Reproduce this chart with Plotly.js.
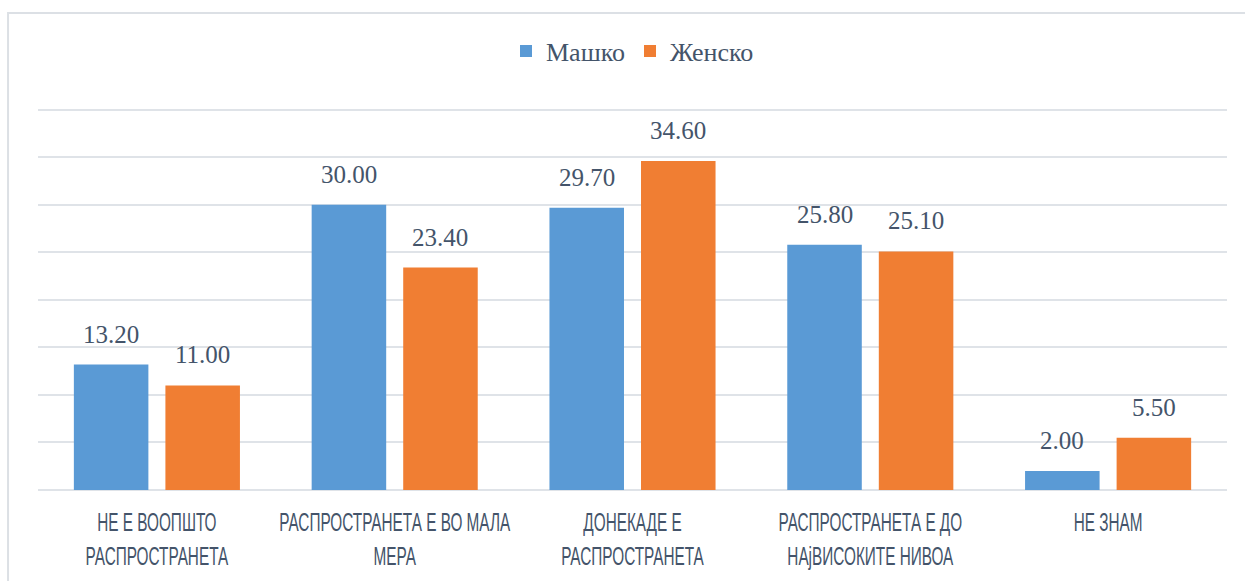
<!DOCTYPE html>
<html>
<head>
<meta charset="utf-8">
<script src="https://cdn.plot.ly/plotly-3.0.1.min.js"></script>
<style>html,body{margin:0;padding:0;background:#fff;}#chart{width:1245px;height:581px;}</style>
</head>
<body>
<div id="chart"></div>
<script>
var categories = [
  "НЕ Е ВООПШТО<br>РАСПРОСТРАНЕТА",
  "РАСПРОСТРАНЕТА Е ВО МАЛА<br>МЕРА",
  "ДОНЕКАДЕ Е<br>РАСПРОСТРАНЕТА",
  "РАСПРОСТРАНЕТА Е ДО<br>НАjВИСОКИТЕ НИВОА",
  "НЕ ЗНАМ"
];
var seriesNames = ["Машко", "Женско"];
var maleValues = [13.20, 30.00, 29.70, 25.80, 2.00];
var femaleValues = [11.00, 23.40, 34.60, 25.10, 5.50];

var textColor = "#44546A";
var serif = "Liberation Serif, DejaVu Serif, serif";

var traces = [
  {type: "bar", name: seriesNames[0], x: categories, y: maleValues,
   marker: {color: "#5A9AD5"}, hoverinfo: "y"},
  {type: "bar", name: seriesNames[1], x: categories, y: femaleValues,
   marker: {color: "#F07E33"}, hoverinfo: "y"}
];

var slotShift = 45.75;
var annotations = [];
[maleValues, femaleValues].forEach(function(vals, si){
  vals.forEach(function(v, i){
    annotations.push({
      x: categories[i], y: v, xref: "x", yref: "y",
      text: v.toFixed(2), showarrow: false,
      xshift: si === 0 ? -slotShift : slotShift,
      yanchor: "bottom", yshift: 15,
      font: {family: serif, size: 25, color: textColor}
    });
  });
});

var layout = {
  width: 1245, height: 581,
  margin: {l: 38, r: 18, t: 105, b: 91},
  paper_bgcolor: "#ffffff", plot_bgcolor: "#ffffff",
  barmode: "group", bargap: 0.23, bargroupgap: 0.186,
  showlegend: true,
  legend: {orientation: "h", x: 0.5, xanchor: "center", y: 1.201, yanchor: "top",
           font: {family: serif, size: 26, color: textColor}, itemwidth: 30},
  xaxis: {showgrid: false, showline: false, zeroline: false, ticks: "", tickangle: 0,
          tickfont: {family: "Liberation Sans, Arial, sans-serif", size: 26, color: textColor},
          ticklabelstandoff: 14},
  yaxis: {range: [0, 40.5], tickvals: [0, 5, 10, 15, 20, 25, 30, 35, 40], showticklabels: false, showgrid: true,
          gridcolor: "#DFE3E8", gridwidth: 2, zeroline: true, zerolinecolor: "#DFE3E8", zerolinewidth: 2,
          showline: false},
  annotations: annotations,
  shapes: [{type: "rect", xref: "paper", yref: "paper",
            x0: -0.0252, x1: 1.04, y0: -0.3, y1: 1.239,
            line: {color: "#DCE0E5", width: 2}, fillcolor: "rgba(0,0,0,0)", layer: "below"}]
};

Plotly.newPlot("chart", traces, layout, {displayModeBar: false, staticPlot: true}).then(function(gd){
  // condense the category labels horizontally (reference uses a very narrow typeface)
  gd.querySelectorAll(".xtick text").forEach(function(t){
    var tr = t.getAttribute("transform") || "";
    t.setAttribute("transform", tr + " scale(0.59,1)");
  });
});
</script>
</body>
</html>
